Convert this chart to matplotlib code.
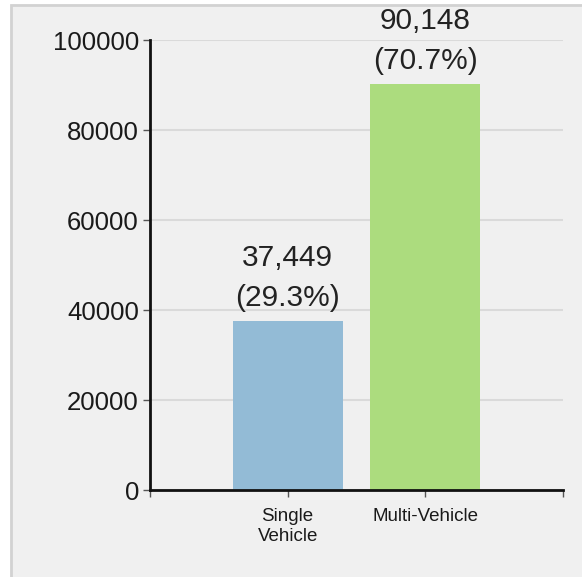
import matplotlib.pyplot as plt
from matplotlib.patches import Rectangle

plt.rcParams['font.family'] = ['Liberation Sans', 'DejaVu Sans']

categories = ['Single\nVehicle', 'Multi-Vehicle']
crashes = [37449, 90148]
shares = [29.3, 70.7]
bar_colors = ['#93bbd6', '#acdc7e']
y_ticks = [0, 20000, 40000, 60000, 80000, 100000]

fig = plt.figure(figsize=(5.82, 5.77), dpi=100)
fig.patch.set_facecolor('white')

# grey panel the chart sits in (runs off the right and bottom edges)
fig.patches.append(Rectangle((11 / 582, -0.05), 1.1, 1.05 - 5 / 577, transform=fig.transFigure,
                             facecolor='#f0f0f0', edgecolor='#d2d2d2', linewidth=2, zorder=-10))

ax = fig.add_axes([150 / 582, 1 - 490 / 577, 413 / 582, 450 / 577])
ax.set_zorder(5)
ax.set_facecolor('none')

pos = [1, 2]
bars = ax.bar(pos, crashes, width=0.8, color=bar_colors, zorder=2)

for x, v, s in zip(pos, crashes, shares):
    ax.annotate(f'{v:,}\n({s}%)', (x, v), xytext=(0, 7), textcoords='offset points',
                ha='center', va='bottom', fontsize=21.5, color='#222222', linespacing=1.55)

ax.set_xlim(0, 3)
ax.set_ylim(0, 100000)
ax.set_yticks(y_ticks)
ax.set_yticklabels([str(t) for t in y_ticks], fontsize=18.5, color='#1a1a1a')
ax.set_xticks([0, 1, 2, 3])
ax.set_xticklabels([''] + categories + [''], fontsize=13.5, color='#1a1a1a')
ax.tick_params(axis='x', length=5, width=1, color='#555555', pad=8)
ax.tick_params(axis='y', length=5, width=1, color='#555555', pad=3)

ax.grid(axis='y', color='#dadada', linewidth=1.5, zorder=1)
ax.set_axisbelow(True)
for side in ['top', 'right']:
    ax.spines[side].set_visible(False)
for side in ['left', 'bottom']:
    ax.spines[side].set_linewidth(2)
    ax.spines[side].set_color('#111111')
    ax.spines[side].set_zorder(3)

fig.savefig('out.png', dpi=100)
